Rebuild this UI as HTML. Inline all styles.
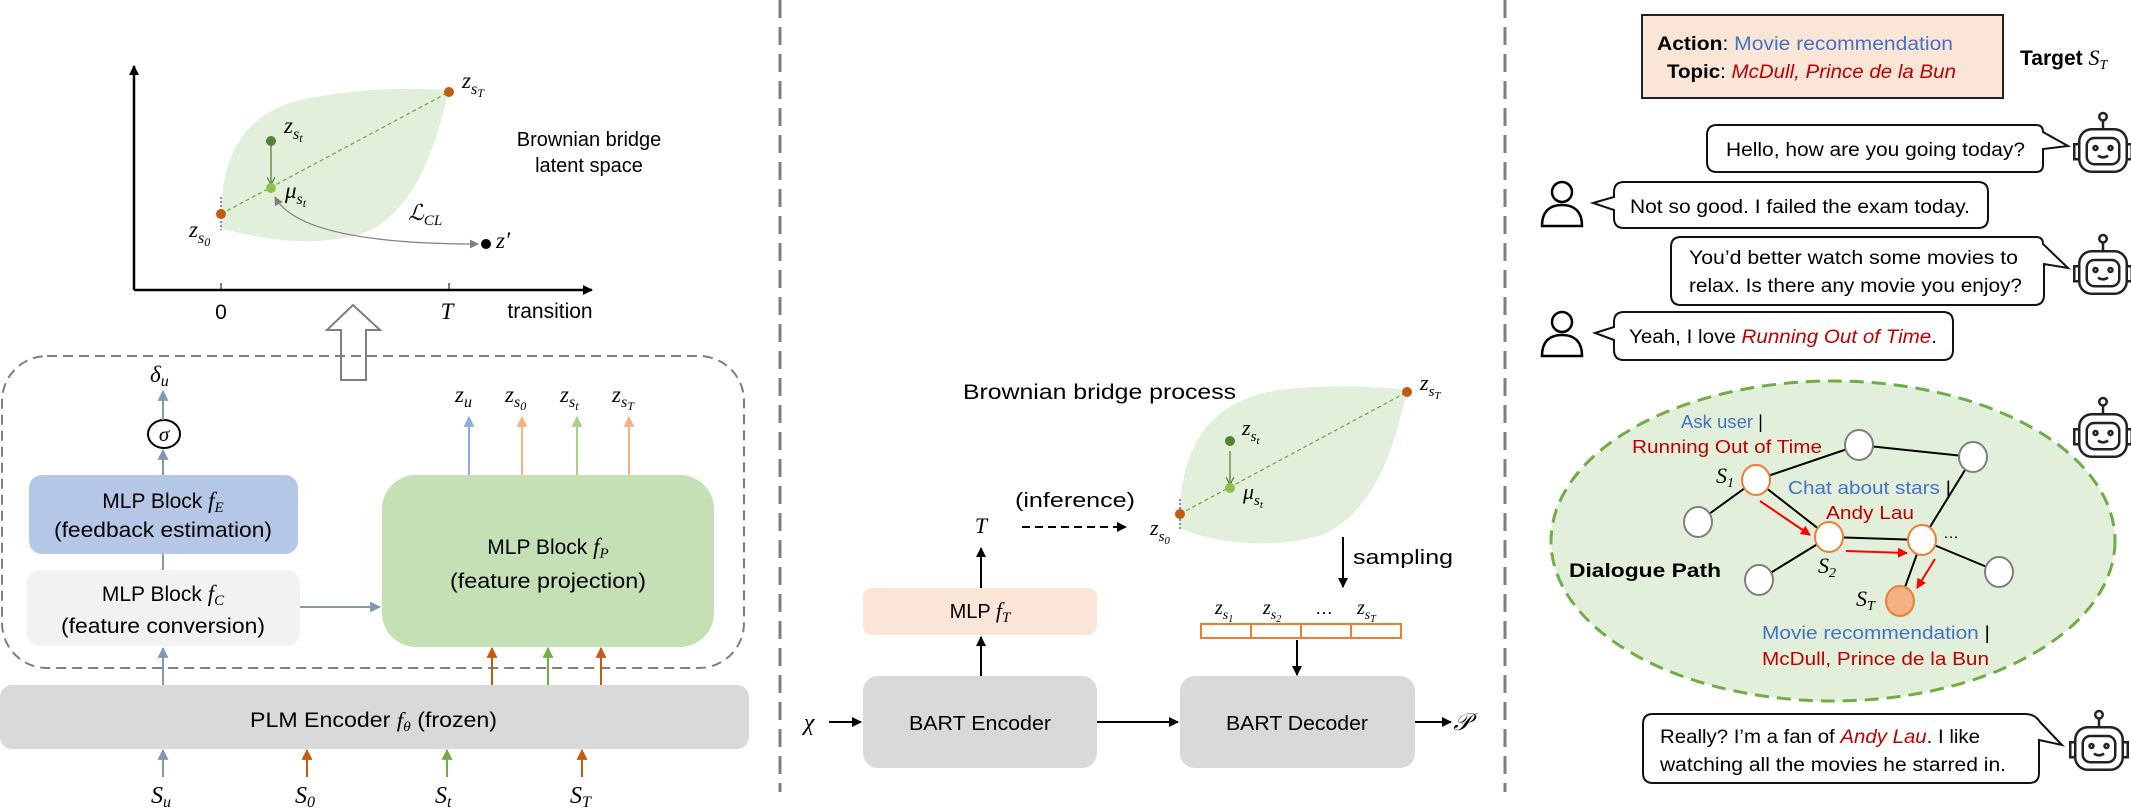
<!DOCTYPE html>
<html><head><meta charset="utf-8"><style>
html,body{margin:0;padding:0;background:#fff}
svg{display:block}
.m{font-family:"Liberation Serif",serif;font-style:italic}
.s{font-family:"Liberation Sans",sans-serif}
</style></head><body>
<svg width="2131" height="812" viewBox="0 0 2131 812" xmlns="http://www.w3.org/2000/svg">
<defs>
<marker id="ak" viewBox="0 0 10 10" refX="9" refY="5" markerWidth="10" markerHeight="10" markerUnits="userSpaceOnUse" orient="auto"><path d="M0,0L10,5L0,10z" fill="#000"/></marker>
<marker id="ag" viewBox="0 0 10 10" refX="9" refY="5" markerWidth="9" markerHeight="9" markerUnits="userSpaceOnUse" orient="auto-start-reverse"><path d="M0,0L10,5L0,10z" fill="#808080"/></marker>
<marker id="abl" viewBox="0 0 10 10" refX="9" refY="5" markerWidth="11" markerHeight="11" markerUnits="userSpaceOnUse" orient="auto"><path d="M0,0L10,5L0,10z" fill="#8497b0"/></marker>
<marker id="ab2" viewBox="0 0 10 10" refX="9" refY="5" markerWidth="11" markerHeight="11" markerUnits="userSpaceOnUse" orient="auto"><path d="M0,0L10,5L0,10z" fill="#8faadc"/></marker>
<marker id="ao" viewBox="0 0 10 10" refX="9" refY="5" markerWidth="11" markerHeight="11" markerUnits="userSpaceOnUse" orient="auto"><path d="M0,0L10,5L0,10z" fill="#c55a11"/></marker>
<marker id="ao2" viewBox="0 0 10 10" refX="9" refY="5" markerWidth="11" markerHeight="11" markerUnits="userSpaceOnUse" orient="auto"><path d="M0,0L10,5L0,10z" fill="#f4b183"/></marker>
<marker id="agr" viewBox="0 0 10 10" refX="9" refY="5" markerWidth="11" markerHeight="11" markerUnits="userSpaceOnUse" orient="auto"><path d="M0,0L10,5L0,10z" fill="#70ad47"/></marker>
<marker id="agr2" viewBox="0 0 10 10" refX="9" refY="5" markerWidth="11" markerHeight="11" markerUnits="userSpaceOnUse" orient="auto"><path d="M0,0L10,5L0,10z" fill="#a9d18e"/></marker>
<marker id="ar" viewBox="0 0 10 10" refX="9" refY="5" markerWidth="10" markerHeight="10" markerUnits="userSpaceOnUse" orient="auto"><path d="M0,0L10,5L0,10z" fill="#ff0000"/></marker>
<marker id="adg" viewBox="0 0 10 10" refX="9" refY="5" markerWidth="8" markerHeight="8" markerUnits="userSpaceOnUse" orient="auto"><path d="M0,0L10,5L0,10" fill="none" stroke="#548235" stroke-width="1.5"/></marker>
<g id="robot0" fill="none" stroke="#222" stroke-width="2">
 <rect x="-19" y="-15" width="38" height="34" rx="10"/>
 <rect x="-13" y="-8" width="26" height="21" rx="6"/>
 <path d="M-19,-3 h-4 v12 h4 M19,-3 h4 v12 h-4"/>
 <line x1="0" y1="-15" x2="0" y2="-22"/><circle cx="0" cy="-25" r="3"/>
 <circle cx="-6" cy="0" r="1.6"/><circle cx="6" cy="0" r="1.6"/>
 <path d="M-4,6 Q0,9 4,6"/>
</g>
<g id="robot"><use href="#robot0" transform="scale(1.25)"/></g>
<g id="person" fill="none" stroke="#000" stroke-width="2.5">
 <circle cx="0" cy="-11" r="10"/>
 <path d="M-20,23 C-20,8 -12,2 0,2 C12,2 20,8 20,23 Z"/>
</g>
</defs>

<line x1="780" y1="0" x2="780" y2="792" stroke="#7f7f7f" stroke-width="3" stroke-dasharray="18,9"/>
<line x1="1505" y1="0" x2="1505" y2="792" stroke="#7f7f7f" stroke-width="3" stroke-dasharray="18,9"/>

<!-- LEFT -->
<line x1="134" y1="290" x2="134" y2="66" stroke="#000" stroke-width="2.5" marker-end="url(#ak)"/>
<line x1="134" y1="290" x2="592" y2="290" stroke="#000" stroke-width="2.5" marker-end="url(#ak)"/>
<line x1="221" y1="290" x2="221" y2="283" stroke="#000" stroke-width="1"/>
<line x1="449" y1="290" x2="449" y2="283" stroke="#000" stroke-width="1"/>
<text x="221" y="319" class="s" font-size="21" text-anchor="middle">0</text>
<text x="447" y="319" class="m" font-size="23" text-anchor="middle">T</text>
<text x="550" y="318" class="s" font-size="21" text-anchor="middle">transition</text>

<path d="M221,214 C222,160 240,115 300,100 C360,87 420,88 449,90 C437,140 420,200 375,228 C335,248 270,243 221,228 Z" fill="#e2efda"/>
<line x1="221" y1="197" x2="221" y2="230" stroke="#4472c4" stroke-width="1.5" stroke-dasharray="2,2"/>
<line x1="221" y1="214" x2="449" y2="92" stroke="#70ad47" stroke-width="1.3" stroke-dasharray="4,3"/>
<line x1="271" y1="143" x2="271" y2="184" stroke="#548235" stroke-width="1.3" marker-end="url(#adg)"/>
<path d="M275,197 Q300,244 478,244" fill="none" stroke="#808080" stroke-width="1.3" marker-start="url(#ag)" marker-end="url(#ag)"/>
<circle cx="449" cy="92" r="5" fill="#c55a11"/>
<circle cx="271" cy="141" r="5" fill="#548235"/>
<circle cx="271" cy="188" r="5" fill="#8bc34a"/>
<circle cx="221" cy="214" r="5" fill="#c55a11"/>
<circle cx="486" cy="244" r="5" fill="#000"/>
<text x="462" y="88" class="m" font-size="23">z<tspan font-size="16" dy="6">s</tspan><tspan font-size="12" dy="3">T</tspan></text>
<text x="284" y="133" class="m" font-size="23">z<tspan font-size="16" dy="6">s</tspan><tspan font-size="12" dy="3">t</tspan></text>
<text x="285" y="198" class="m" font-size="23">μ<tspan font-size="16" dy="6">s</tspan><tspan font-size="12" dy="3">t</tspan></text>
<text x="189" y="237" class="m" font-size="23">z<tspan font-size="16" dy="6">s</tspan><tspan font-size="12" dy="3">0</tspan></text>
<text x="496" y="248" class="m" font-size="23">z′</text>
<text x="408" y="220" class="m" font-size="22">ℒ<tspan font-size="15" dy="5">CL</tspan></text>
<text x="589" y="146" class="s" font-size="20" text-anchor="middle">Brownian bridge</text>
<text x="589" y="172" class="s" font-size="20" text-anchor="middle">latent space</text>

<path d="M341,380 L341,330 L327,330 L353,305 L380,330 L366,330 L366,380 Z" fill="#fff" stroke="#7f7f7f" stroke-width="2"/>
<rect x="2" y="356" width="742" height="312" rx="45" fill="none" stroke="#7f7f7f" stroke-width="2" stroke-dasharray="10,6"/>

<rect x="29" y="475" width="269" height="79" rx="13" fill="#b4c7e7"/>
<text x="163" y="508" class="s" font-size="21" text-anchor="middle">MLP Block <tspan class="m" font-size="23">f</tspan><tspan class="m" font-size="15" dy="4">E</tspan></text>
<text x="163" y="537" class="s" font-size="21" text-anchor="middle" textLength="218" lengthAdjust="spacingAndGlyphs">(feedback estimation)</text>
<rect x="27" y="570" width="273" height="76" rx="13" fill="#f2f2f2"/>
<text x="163" y="601" class="s" font-size="21" text-anchor="middle">MLP Block <tspan class="m" font-size="23">f</tspan><tspan class="m" font-size="15" dy="4">C</tspan></text>
<text x="163" y="633" class="s" font-size="21" text-anchor="middle" textLength="204" lengthAdjust="spacingAndGlyphs">(feature conversion)</text>
<line x1="163" y1="570" x2="163" y2="554" stroke="#8497b0" stroke-width="2"/>
<line x1="163" y1="475" x2="163" y2="450" stroke="#8497b0" stroke-width="2" marker-end="url(#abl)"/>
<ellipse cx="164" cy="434" rx="16" ry="14" fill="#fff" stroke="#000" stroke-width="2"/>
<text x="164" y="441" class="m" font-size="21" text-anchor="middle">σ</text>
<line x1="163" y1="420" x2="163" y2="391" stroke="#8497b0" stroke-width="2" marker-end="url(#abl)"/>
<text x="150" y="382" class="m" font-size="23">δ<tspan font-size="16" dy="4">u</tspan></text>
<line x1="300" y1="607" x2="380" y2="607" stroke="#8497b0" stroke-width="2" marker-end="url(#abl)"/>

<rect x="382" y="475" width="332" height="172" rx="34" fill="#c5e0b4"/>
<text x="548" y="554" class="s" font-size="21" text-anchor="middle">MLP Block <tspan class="m" font-size="23">f</tspan><tspan class="m" font-size="15" dy="4">P</tspan></text>
<text x="548" y="588" class="s" font-size="21" text-anchor="middle" textLength="196" lengthAdjust="spacingAndGlyphs">(feature projection)</text>
<line x1="469" y1="475" x2="469" y2="417" stroke="#8faadc" stroke-width="2" marker-end="url(#ab2)"/>
<line x1="522" y1="475" x2="522" y2="417" stroke="#f4b183" stroke-width="2" marker-end="url(#ao2)"/>
<line x1="577" y1="475" x2="577" y2="417" stroke="#a9d18e" stroke-width="2" marker-end="url(#agr2)"/>
<line x1="629" y1="475" x2="629" y2="417" stroke="#f4b183" stroke-width="2" marker-end="url(#ao2)"/>
<text x="455" y="402" class="m" font-size="23">z<tspan font-size="16" dy="5">u</tspan></text>
<text x="505" y="402" class="m" font-size="23">z<tspan font-size="16" dy="5">s</tspan><tspan font-size="12" dy="3">0</tspan></text>
<text x="560" y="402" class="m" font-size="23">z<tspan font-size="16" dy="5">s</tspan><tspan font-size="12" dy="3">t</tspan></text>
<text x="612" y="402" class="m" font-size="23">z<tspan font-size="16" dy="5">s</tspan><tspan font-size="12" dy="3">T</tspan></text>

<rect x="0" y="685" width="749" height="64" rx="12" fill="#d9d9d9"/>
<text x="250" y="727" class="s" font-size="21" textLength="247" lengthAdjust="spacingAndGlyphs">PLM Encoder <tspan class="m">f</tspan><tspan class="m" font-size="14" dy="4">θ</tspan><tspan dy="-4"> (frozen)</tspan></text>
<line x1="163" y1="685" x2="163" y2="648" stroke="#8497b0" stroke-width="2" marker-end="url(#abl)"/>
<line x1="492" y1="685" x2="492" y2="648" stroke="#c55a11" stroke-width="2" marker-end="url(#ao)"/>
<line x1="548" y1="685" x2="548" y2="648" stroke="#70ad47" stroke-width="2" marker-end="url(#agr)"/>
<line x1="601" y1="685" x2="601" y2="648" stroke="#c55a11" stroke-width="2" marker-end="url(#ao)"/>
<line x1="163" y1="777" x2="163" y2="750" stroke="#8497b0" stroke-width="2" marker-end="url(#abl)"/>
<line x1="307" y1="777" x2="307" y2="750" stroke="#c55a11" stroke-width="2" marker-end="url(#ao)"/>
<line x1="447" y1="777" x2="447" y2="750" stroke="#70ad47" stroke-width="2" marker-end="url(#agr)"/>
<line x1="582" y1="777" x2="582" y2="750" stroke="#c55a11" stroke-width="2" marker-end="url(#ao)"/>
<text x="151" y="803" class="m" font-size="24">S<tspan font-size="16" dy="4">u</tspan></text>
<text x="295" y="803" class="m" font-size="24">S<tspan font-size="16" dy="4">0</tspan></text>
<text x="435" y="803" class="m" font-size="24">S<tspan font-size="16" dy="4">t</tspan></text>
<text x="570" y="803" class="m" font-size="24">S<tspan font-size="16" dy="4">T</tspan></text>

<!-- MIDDLE -->
<text x="963" y="399" class="s" font-size="21" textLength="273" lengthAdjust="spacingAndGlyphs">Brownian bridge process</text>
<path d="M1180,505 C1184,445 1210,400 1280,390 C1340,383 1390,388 1407,390 C1396,440 1378,510 1322,535 C1272,550 1212,543 1180,528 Z" fill="#e2efda"/>
<line x1="1180" y1="499" x2="1180" y2="530" stroke="#4472c4" stroke-width="1.5" stroke-dasharray="2,2"/>
<line x1="1180" y1="514" x2="1407" y2="392" stroke="#70ad47" stroke-width="1.3" stroke-dasharray="4,3"/>
<line x1="1230" y1="451" x2="1230" y2="484" stroke="#548235" stroke-width="1.3" marker-end="url(#adg)"/>
<circle cx="1407" cy="392" r="5" fill="#c55a11"/>
<circle cx="1230" cy="441" r="5" fill="#548235"/>
<circle cx="1230" cy="488" r="5" fill="#8bc34a"/>
<circle cx="1180" cy="514" r="5" fill="#c55a11"/>
<text x="1420" y="390" class="m" font-size="22">z<tspan font-size="15" dy="6">s</tspan><tspan font-size="11" dy="3">T</tspan></text>
<text x="1242" y="435" class="m" font-size="22">z<tspan font-size="15" dy="6">s</tspan><tspan font-size="11" dy="3">t</tspan></text>
<text x="1243" y="499" class="m" font-size="22">μ<tspan font-size="15" dy="6">s</tspan><tspan font-size="11" dy="3">t</tspan></text>
<text x="1150" y="535" class="m" font-size="22">z<tspan font-size="15" dy="6">s</tspan><tspan font-size="11" dy="3">0</tspan></text>

<text x="1015" y="507" class="s" font-size="20" textLength="120" lengthAdjust="spacingAndGlyphs">(inference)</text>
<line x1="1022" y1="527" x2="1126" y2="527" stroke="#000" stroke-width="2" stroke-dasharray="8,5" marker-end="url(#ak)"/>
<text x="981" y="533" class="m" font-size="22" text-anchor="middle">T</text>
<line x1="981" y1="588" x2="981" y2="548" stroke="#000" stroke-width="2" marker-end="url(#ak)"/>
<rect x="863" y="588" width="234" height="47" rx="9" fill="#fbe5d6"/>
<text x="980" y="618" class="s" font-size="20" text-anchor="middle">MLP <tspan class="m" font-size="22">f</tspan><tspan class="m" font-size="15" dy="4">T</tspan></text>
<line x1="981" y1="676" x2="981" y2="637" stroke="#000" stroke-width="2" marker-end="url(#ak)"/>

<line x1="1343" y1="537" x2="1343" y2="587" stroke="#000" stroke-width="2" marker-end="url(#ak)"/>
<text x="1353" y="564" class="s" font-size="20" textLength="100" lengthAdjust="spacingAndGlyphs">sampling</text>
<text x="1215" y="614" class="m" font-size="20">z<tspan font-size="14" dy="5">s</tspan><tspan font-size="10" dy="3">1</tspan></text>
<text x="1263" y="614" class="m" font-size="20">z<tspan font-size="14" dy="5">s</tspan><tspan font-size="10" dy="3">2</tspan></text>
<text x="1315" y="614" class="s" font-size="18">…</text>
<text x="1357" y="614" class="m" font-size="20">z<tspan font-size="14" dy="5">s</tspan><tspan font-size="10" dy="3">T</tspan></text>
<rect x="1201" y="624" width="200" height="14" fill="#fff" stroke="#ed7d31" stroke-width="2"/>
<line x1="1251" y1="624" x2="1251" y2="638" stroke="#ed7d31" stroke-width="2"/>
<line x1="1301" y1="624" x2="1301" y2="638" stroke="#ed7d31" stroke-width="2"/>
<line x1="1351" y1="624" x2="1351" y2="638" stroke="#ed7d31" stroke-width="2"/>
<line x1="1297" y1="640" x2="1297" y2="675" stroke="#000" stroke-width="2" marker-end="url(#ak)"/>

<rect x="863" y="676" width="234" height="92" rx="15" fill="#d9d9d9"/>
<text x="980" y="730" class="s" font-size="20" text-anchor="middle" textLength="142" lengthAdjust="spacingAndGlyphs">BART Encoder</text>
<rect x="1180" y="676" width="235" height="92" rx="15" fill="#d9d9d9"/>
<text x="1297" y="730" class="s" font-size="20" text-anchor="middle" textLength="142" lengthAdjust="spacingAndGlyphs">BART Decoder</text>
<line x1="1097" y1="722" x2="1178" y2="722" stroke="#000" stroke-width="2" marker-end="url(#ak)"/>
<line x1="829" y1="722" x2="861" y2="722" stroke="#000" stroke-width="2" marker-end="url(#ak)"/>
<text x="809" y="730" class="m" font-size="24" text-anchor="middle">χ</text>
<line x1="1415" y1="722" x2="1451" y2="722" stroke="#000" stroke-width="2" marker-end="url(#ak)"/>
<text x="1462" y="730" class="m" font-size="24" text-anchor="middle">𝒫</text>

<!-- RIGHT -->
<rect x="1642" y="15" width="361" height="83" fill="#fbe5d6" stroke="#222" stroke-width="2"/>
<text x="1657" y="50" class="s" font-size="19" textLength="296" lengthAdjust="spacingAndGlyphs"><tspan font-weight="bold">Action</tspan>: <tspan fill="#4472c4">Movie recommendation</tspan></text>
<text x="1667" y="78" class="s" font-size="19" textLength="289" lengthAdjust="spacingAndGlyphs"><tspan font-weight="bold">Topic</tspan>: <tspan fill="#c00000" font-style="italic">McDull, Prince de la Bun</tspan></text>
<text x="2020" y="65" class="s" font-size="21" font-weight="bold">Target <tspan class="m" font-weight="normal" font-size="22">S</tspan><tspan class="m" font-weight="normal" font-size="14" dy="4">T</tspan></text>

<path d="M1717,125 H2036 Q2043,125 2043,132 L2068,146 L2043,149 V165 Q2043,172 2036,172 H1717 Q1707,172 1707,162 V135 Q1707,125 1717,125 Z" fill="#fff" stroke="#111" stroke-width="2"/>
<text x="1726" y="156" class="s" font-size="19" textLength="299" lengthAdjust="spacingAndGlyphs">Hello, how are you going today?</text>
<use href="#robot" x="2103" y="148"/>

<use href="#person" x="1562" y="203"/>
<path d="M1624,182 H1978 Q1988,182 1988,192 V218 Q1988,228 1978,228 H1624 Q1614,228 1614,218 V210 L1593,203 L1614,197 V192 Q1614,182 1624,182 Z" fill="#fff" stroke="#111" stroke-width="2"/>
<text x="1630" y="213" class="s" font-size="19" textLength="340" lengthAdjust="spacingAndGlyphs">Not so good. I failed the exam today.</text>

<path d="M1681,237 H2036 Q2043,237 2043,244 L2068,268 L2044,264 V295 Q2044,305 2034,305 H1681 Q1671,305 1671,295 V247 Q1671,237 1681,237 Z" fill="#fff" stroke="#111" stroke-width="2"/>
<text x="1689" y="264" class="s" font-size="19" textLength="329" lengthAdjust="spacingAndGlyphs">You’d better watch some movies to</text>
<text x="1689" y="292" class="s" font-size="19" textLength="333" lengthAdjust="spacingAndGlyphs">relax. Is there any movie you enjoy?</text>
<use href="#robot" x="2103" y="270"/>

<use href="#person" x="1562" y="333"/>
<path d="M1624,312 H1943 Q1953,312 1953,322 V350 Q1953,360 1943,360 H1624 Q1614,360 1614,350 V340 L1595,333 L1614,327 V322 Q1614,312 1624,312 Z" fill="#fff" stroke="#111" stroke-width="2"/>
<text x="1629" y="343" class="s" font-size="19" textLength="308" lengthAdjust="spacingAndGlyphs">Yeah, I love <tspan fill="#c00000" font-style="italic">Running Out of Time</tspan>.</text>

<ellipse cx="1833" cy="541" rx="282" ry="160" fill="#e2efda" stroke="#70ad47" stroke-width="3" stroke-dasharray="14,8"/>
<use href="#robot" x="2103" y="433"/>
<g stroke="#000" stroke-width="2">
<line x1="1756" y1="480" x2="1859" y2="445"/>
<line x1="1859" y1="445" x2="1973" y2="457"/>
<line x1="1973" y1="457" x2="1922" y2="540"/>
<line x1="1756" y1="480" x2="1698" y2="522"/>
<line x1="1756" y1="480" x2="1829" y2="537"/>
<line x1="1829" y1="537" x2="1922" y2="540"/>
<line x1="1829" y1="537" x2="1759" y2="580"/>
<line x1="1922" y1="540" x2="1999" y2="572"/>
<line x1="1922" y1="540" x2="1900" y2="601"/>
</g>
<g fill="#fff" stroke="#7f7f7f" stroke-width="2">
<ellipse cx="1859" cy="445" rx="14" ry="15"/>
<ellipse cx="1973" cy="457" rx="14" ry="15"/>
<ellipse cx="1698" cy="522" rx="14" ry="15"/>
<ellipse cx="1759" cy="580" rx="14" ry="15"/>
<ellipse cx="1999" cy="572" rx="14" ry="15"/>
</g>
<g fill="#fff" stroke="#ed7d31" stroke-width="2">
<ellipse cx="1756" cy="480" rx="14" ry="15"/>
<ellipse cx="1829" cy="537" rx="14" ry="15"/>
<ellipse cx="1922" cy="540" rx="14" ry="15"/>
</g>
<ellipse cx="1900" cy="601" rx="14" ry="15" fill="#f4b183" stroke="#ed7d31" stroke-width="2"/>
<line x1="1760" y1="501" x2="1810" y2="535" stroke="#ff0000" stroke-width="2" marker-end="url(#ar)"/>
<line x1="1846" y1="551" x2="1907" y2="553" stroke="#ff0000" stroke-width="2" marker-end="url(#ar)"/>
<line x1="1935" y1="559" x2="1917" y2="588" stroke="#ff0000" stroke-width="2" marker-end="url(#ar)"/>

<text x="1681" y="428" class="s" font-size="18" textLength="82" lengthAdjust="spacingAndGlyphs"><tspan fill="#4472c4">Ask user</tspan> |</text>
<text x="1632" y="453" class="s" font-size="18" fill="#c00000" textLength="190" lengthAdjust="spacingAndGlyphs">Running Out of Time</text>
<text x="1716" y="483" class="m" font-size="22">S<tspan font-size="14" dy="4">1</tspan></text>
<text x="1788" y="494" class="s" font-size="18" textLength="163" lengthAdjust="spacingAndGlyphs"><tspan fill="#4472c4">Chat about stars</tspan> |</text>
<text x="1826" y="519" class="s" font-size="18" fill="#c00000" textLength="88" lengthAdjust="spacingAndGlyphs">Andy Lau</text>
<text x="1943" y="538" class="s" font-size="16">…</text>
<text x="1818" y="573" class="m" font-size="22">S<tspan font-size="14" dy="4">2</tspan></text>
<text x="1569" y="577" class="s" font-size="19" font-weight="bold" textLength="152" lengthAdjust="spacingAndGlyphs">Dialogue Path</text>
<text x="1856" y="606" class="m" font-size="22">S<tspan font-size="14" dy="4">T</tspan></text>
<text x="1762" y="639" class="s" font-size="18" textLength="228" lengthAdjust="spacingAndGlyphs"><tspan fill="#4472c4">Movie recommendation</tspan> |</text>
<text x="1762" y="665" class="s" font-size="18" fill="#c00000" textLength="227" lengthAdjust="spacingAndGlyphs">McDull, Prince de la Bun</text>

<path d="M1653,714 H2025 Q2035,714 2040,722 L2062,745 L2039,740 V773 Q2039,783 2029,783 H1653 Q1643,783 1643,773 V724 Q1643,714 1653,714 Z" fill="#fff" stroke="#111" stroke-width="2"/>
<text x="1660" y="743" class="s" font-size="19" textLength="320" lengthAdjust="spacingAndGlyphs">Really? I’m a fan of <tspan fill="#c00000" font-style="italic">Andy Lau</tspan>. I like</text>
<text x="1660" y="771" class="s" font-size="19" textLength="346" lengthAdjust="spacingAndGlyphs">watching all the movies he starred in.</text>
<use href="#robot" x="2099" y="746"/>
</svg>
</body></html>
